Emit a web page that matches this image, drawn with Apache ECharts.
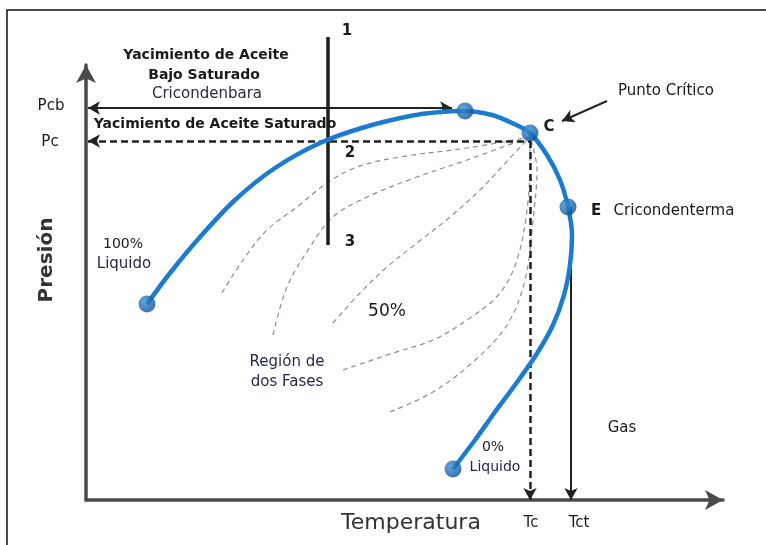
<!DOCTYPE html>
<html><head><meta charset="utf-8">
<script src="https://cdn.jsdelivr.net/npm/echarts@6/dist/echarts.min.js"></script>
<style>html,body{margin:0;padding:0;background:#fff}#c{width:766px;height:545px}</style>
</head><body><div id="c"></div>
<script>
// Phase envelope (bubble-point + dew-point curve), arbitrary units
const envelopeT = [61,84,114,149,189,234,279,324,354,379,406,426,444,461,474,482,486,484,478,467,450,429,409,389,367];
const envelopeP = [196,227,263,300,332,357,373,384,388,389,385,377,367,345,320,293,265,235,205,175,145,115,88,60,31];

// Marked points: 100% liquid, cricondenbar, critical point C, cricondentherm E, 0% liquid
const keyNames = ['100% Liquido','Cricondenbara','C','E','0% Liquido'];
const keyT = [61,379,444,482,367];
const keyP = [196,389,367,293,31];

// Quality (iso-vol) lines inside the two-phase region
const q1T = [136,157,181,211,241,271,314,381,444];
const q1P = [207,240,270,293,317,333,343,352,363];
const q2T = [187,201,224,247,281,331,381,444];
const q2P = [165,213,253,283,303,323,340,363];
const q3T = [247,274,301,331,364,397,424,444];
const q3P = [177,207,233,257,283,313,342,363];
const q4T = [257,307,347,384,414,431,441,444,444];
const q4P = [130,147,160,182,207,240,290,340,363];
const q5T = [304,347,387,421,439,447,451,444];
const q5P = [88,108,138,175,220,280,330,363];

// Reference levels
const Pcb = 392, Pc = 359, Tc = 444, Tct = 485;
const isoT = 242, isoPtop = 463, isoPbottom = 255;
const arrowFrom = [521,399], arrowTo = [476,379];

const zip = (a,b) => a.map((v,i)=>[v,b[i]]);
const F = 'DejaVu Sans';
const chart = echarts.init(document.getElementById('c'), null, {renderer:'canvas'});

const qStyle = (c) => ({type:'line', smooth:0.35, symbol:'none', silent:true, clip:false,
  lineStyle:{color:c, width:1.2, type:[5,4]}});

const txt = (text, x, y, size, opts={}) => ({type:'text', x, y, style:Object.assign({text, fill:'#1a1a1a', font:`${opts.bold?'bold ':''}${size}px "${F}"`, textAlign:'center', textVerticalAlign:'middle'}, opts.style||{}), rotation:opts.rot||0, z:100});

chart.setOption({
  animation:false,
  backgroundColor:'#fff',
  grid:{left:86, top:65, right:43, bottom:45},
  xAxis:{type:'value', min:0, max:637, axisLine:{show:true, lineStyle:{color:'#4a4a4a', width:3.5}, symbol:['none','arrow'], symbolSize:[15,18]}, axisTick:{show:false}, axisLabel:{show:false}, splitLine:{show:false}},
  yAxis:{type:'value', min:0, max:435, axisLine:{show:true, lineStyle:{color:'#4a4a4a', width:3.5}, symbol:['none','arrow'], symbolSize:[15,18]}, axisTick:{show:false}, axisLabel:{show:false}, splitLine:{show:false}},
  series:[
    Object.assign(qStyle('#8c8c96'), {data:zip(q1T,q1P)}),
    Object.assign(qStyle('#8a8aa8'), {data:zip(q2T,q2P)}),
    Object.assign(qStyle('#8c8c96'), {data:zip(q3T,q3P)}),
    Object.assign(qStyle('#8a8aa8'), {data:zip(q4T,q4P)}),
    Object.assign(qStyle('#8c8c96'), {data:zip(q5T,q5P)}),
    {type:'line', symbol:'none', silent:true, clip:false, data:[[isoT,isoPtop],[isoT,isoPbottom]],
      lineStyle:{color:'#1e1e1e', width:3.5}},
    {type:'line', symbol:'none', silent:true, data:[],
      markLine:{silent:true, animation:false, label:{show:false}, symbolSize:[10,12],
        data:[
          [{coord:[2,Pcb], symbol:'arrow', lineStyle:{color:'#222', width:2, type:'solid'}},{coord:[366,Pcb], symbol:'arrow'}],
          [{coord:[2,Pc], symbol:'arrow', lineStyle:{color:'#222', width:2.5, type:[7,4]}},{coord:[Tc,Pc], symbol:'none'}],
          [{coord:[Tc,Pc], symbol:'none', lineStyle:{color:'#222', width:2.5, type:[7,4]}},{coord:[Tc,0], symbol:'arrow'}],
          [{coord:[Tct,keyP[3]], symbol:'none', lineStyle:{color:'#222', width:2, type:'solid'}},{coord:[Tct,0], symbol:'arrow'}],
          [{coord:arrowFrom, symbol:'none', lineStyle:{color:'#222', width:2, type:'solid'}},{coord:arrowTo, symbol:'arrow'}]
        ]}},
    {type:'line', smooth:0.3, symbol:'none', silent:true, clip:false, data:zip(envelopeT,envelopeP),
      lineStyle:{color:'#1b7bd3', width:4.5}, z:5},
    {type:'scatter', silent:true, data:keyT.map((t,i)=>({name:keyNames[i], value:[t,keyP[i]]})), symbolSize:17, z:6,
      itemStyle:{color:new echarts.graphic.RadialGradient(0.35,0.35,0.7,[{offset:0,color:'#3d8fd6'},{offset:1,color:'#0a4f96'}])}}
  ],
  graphic:[
    {type:'polyline', shape:{points:[[7,545],[7,10],[766,10]]}, style:{stroke:'#111', lineWidth:1.5, fill:null}, silent:true},
    txt('Yacimiento de Aceite', 206, 55, 14, {bold:true}),
    txt('Bajo Saturado', 204, 75, 14, {bold:true}),
    txt('Cricondenbara', 207, 94, 15, {style:{fill:'#2a2a3a'}}),
    txt('Yacimiento de Aceite Saturado', 215, 124, 14, {bold:true}),
    txt('Pcb', 51, 106, 15),
    txt('Pc', 50, 142, 15),
    txt('1', 347, 31, 15, {bold:true}),
    txt('2', 350, 153, 15, {bold:true}),
    txt('3', 350, 242, 15, {bold:true}),
    txt('Punto Crítico', 666, 91, 15),
    txt('C', 549, 127, 15, {bold:true}),
    txt('E', 596, 211, 15, {bold:true}),
    txt('Cricondenterma', 674, 211, 15),
    txt('100%', 123, 244, 14),
    txt('Liquido', 124, 264, 15, {style:{fill:'#1e2450'}}),
    txt('50%', 387, 312, 17),
    txt('Región de', 287, 362, 15, {style:{fill:'#1e2450'}}),
    txt('dos Fases', 287, 382, 15, {style:{fill:'#1e2450'}}),
    txt('Gas', 622, 428, 15),
    txt('0%', 493, 447, 14),
    txt('Liquido', 495, 467, 14, {style:{fill:'#1e2450'}}),
    txt('Tc', 531, 523, 15),
    txt('Tct', 579, 523, 15),
    txt('Temperatura', 411, 523, 22, {style:{fill:'#333'}}),
    txt('Presión', 47, 260, 20, {bold:true, rot:Math.PI/2, style:{fill:'#333'}})
  ]
});
</script></body></html>
